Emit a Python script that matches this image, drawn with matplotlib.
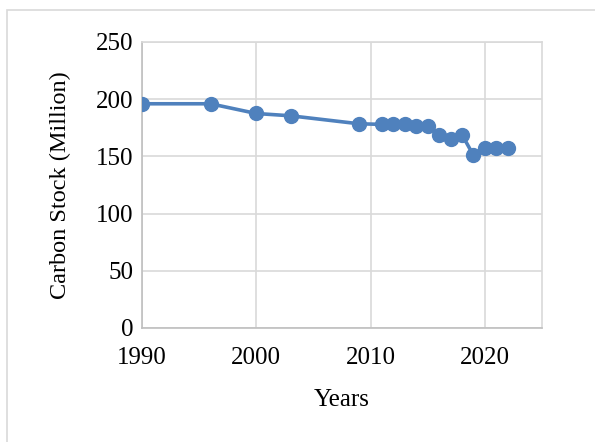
import matplotlib
matplotlib.use("Agg")
import matplotlib.pyplot as plt
from matplotlib.patches import Rectangle

# Carbon stock
years = [1990, 1996, 2000, 2003, 2009, 2011, 2012, 2013, 2014, 2015,
         2016, 2017, 2018, 2019, 2020, 2021, 2022]
stock = [196, 196, 187.5, 185.5, 178.5, 178, 178, 178, 177, 177,
         169, 165, 169, 151, 157.5, 157, 157]
x_ticks = [1990, 2000, 2010, 2020]
y_ticks = [0, 50, 100, 150, 200, 250]

plt.rcParams['font.family'] = ['Liberation Serif', 'DejaVu Serif']

fig = plt.figure(figsize=(5.95, 4.42), dpi=100)
fig.patches.append(Rectangle((7 / 595, -0.1), 1.2, 1 - 10 / 442 + 0.1,
                             transform=fig.transFigure, fill=False,
                             edgecolor='#d9d9d9', linewidth=1.2))

ax = fig.add_axes([142 / 595, 1 - 328 / 442, 400 / 595, 286 / 442])
ax.plot(years, stock, color='#4f81bd', linewidth=2.6, marker='o',
        markersize=10, zorder=3)

ax.set_xlim(1990, 2025)
ax.set_ylim(0, 250)
ax.set_xticks(x_ticks)
ax.set_yticks(y_ticks)
ax.grid(True, color='#d9d9d9', linewidth=1.2)
ax.set_axisbelow(True)
for side in ['top', 'right']:
    ax.spines[side].set_color('#d9d9d9')
    ax.spines[side].set_linewidth(1.2)
for side in ['left', 'bottom']:
    ax.spines[side].set_color('#bfbfbf')
    ax.spines[side].set_linewidth(1.2)
ax.tick_params(axis='both', length=0, labelsize=18, colors='black')
ax.tick_params(axis='x', pad=14)
ax.tick_params(axis='y', pad=6)

ax.set_xlabel('Years', fontsize=18, labelpad=14)
ax.set_ylabel('Carbon Stock (Million)', fontsize=17.5, labelpad=18)

fig.savefig('out.png', dpi=100)
